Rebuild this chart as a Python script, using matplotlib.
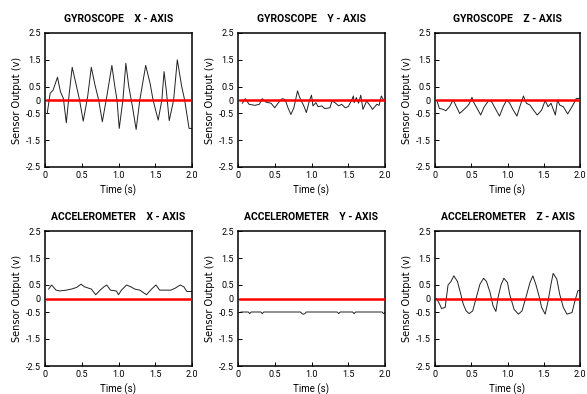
import matplotlib
matplotlib.use('Agg')
import matplotlib.pyplot as plt

# time / value samples
gyro_x_t = [0.03, 0.07, 0.11, 0.17, 0.21, 0.25, 0.29, 0.33, 0.37, 0.42, 0.47, 0.52, 0.58, 0.63,
            0.68, 0.73, 0.78, 0.84, 0.91, 0.95, 0.98, 1.01, 1.06, 1.10, 1.14, 1.19, 1.24, 1.29,
            1.37, 1.43, 1.47, 1.54, 1.59, 1.62, 1.65, 1.69, 1.75, 1.80, 1.86, 1.90, 1.96, 2.0]
gyro_x_v = [-0.5, 0.25, 0.37, 0.85, 0.31, 0.06, -0.85, 0.25, 1.22, 0.62, 0.0, -0.79, 0.12, 1.22,
            0.56, 0.0, -0.81, 0.12, 1.29, 0.5, 0.0, -1.06, 0.0, 1.37, 0.5, -0.25, -1.1, 0.0,
            1.29, 0.62, 0.0, -0.75, 0.0, 1.06, 0.37, -0.77, 0.0, 1.5, 0.5, 0.0, -1.06, -1.06]

gyro_y_t = [0.06, 0.10, 0.15, 0.23, 0.29, 0.33, 0.38, 0.45, 0.50, 0.55, 0.60, 0.64, 0.68, 0.72,
            0.76, 0.81, 0.84, 0.87, 0.90, 0.93, 0.97, 1.00, 1.02, 1.06, 1.09, 1.14, 1.18, 1.25,
            1.28, 1.32, 1.37, 1.41, 1.46, 1.50, 1.55, 1.57, 1.58, 1.61, 1.64, 1.67, 1.70, 1.75,
            1.80, 1.83, 1.89, 1.92, 1.95, 1.98]
gyro_y_v = [-0.12, 0.05, -0.16, -0.2, -0.16, 0.05, -0.08, -0.12, -0.29, -0.1, 0.05, 0.02, -0.29,
            -0.54, -0.29, 0.34, 0.09, -0.08, -0.25, -0.47, -0.04, 0.18, -0.22, -0.1, -0.25, -0.22,
            -0.32, -0.29, -0.04, -0.1, -0.22, -0.16, -0.29, -0.25, 0.02, 0.15, -0.1, 0.09, -0.12,
            0.18, -0.35, -0.04, -0.22, -0.35, -0.16, -0.2, 0.15, 0.0]

gyro_z_t = [0.03, 0.06, 0.11, 0.15, 0.20, 0.25, 0.29, 0.34, 0.39, 0.44, 0.47, 0.51, 0.54, 0.58,
            0.63, 0.68, 0.74, 0.78, 0.83, 0.89, 0.94, 0.99, 1.03, 1.08, 1.13, 1.17, 1.22, 1.26,
            1.31, 1.36, 1.41, 1.47, 1.52, 1.56, 1.60, 1.66, 1.69, 1.72, 1.77, 1.83, 1.89, 1.92,
            1.95, 2.0]
gyro_z_v = [-0.06, -0.31, -0.35, -0.4, -0.25, 0.0, -0.22, -0.5, -0.38, -0.25, -0.15, 0.1, -0.12,
            -0.31, -0.56, -0.25, -0.02, -0.06, -0.31, -0.6, -0.25, 0.0, -0.12, -0.38, -0.6, -0.25,
            0.15, -0.12, -0.19, -0.38, -0.56, -0.38, -0.02, -0.25, -0.12, -0.56, 0.0, -0.19,
            -0.25, -0.52, -0.25, -0.1, 0.06, 0.06]

acc_x_t = [0.05, 0.09, 0.15, 0.20, 0.29, 0.36, 0.43, 0.49, 0.54, 0.63, 0.69, 0.75, 0.80, 0.84,
           0.89, 0.97, 1.0, 1.04, 1.11, 1.17, 1.22, 1.29, 1.38, 1.45, 1.51, 1.56, 1.63, 1.71,
           1.77, 1.84, 1.89, 1.93, 2.0]
acc_x_v = [0.35, 0.5, 0.31, 0.28, 0.31, 0.35, 0.41, 0.53, 0.43, 0.35, 0.14, 0.31, 0.43, 0.5,
           0.31, 0.28, 0.14, 0.31, 0.5, 0.43, 0.35, 0.31, 0.14, 0.35, 0.5, 0.31, 0.31, 0.31,
           0.38, 0.5, 0.43, 0.26, 0.26]

acc_y_t = [0.04, 0.14, 0.16, 0.18, 0.31, 0.33, 0.35, 0.85, 0.87, 0.89, 0.91, 0.93, 1.35, 1.37,
           1.39, 1.56, 1.58, 1.60, 1.96, 1.98, 2.0]
acc_y_v = [-0.5, -0.5, -0.56, -0.5, -0.5, -0.56, -0.5, -0.5, -0.56, -0.58, -0.56, -0.5, -0.5,
           -0.56, -0.5, -0.5, -0.56, -0.5, -0.5, -0.56, -0.52]

acc_z_t = [0.02, 0.06, 0.09, 0.14, 0.18, 0.22, 0.26, 0.31, 0.35, 0.39, 0.43, 0.47, 0.52, 0.57,
           0.62, 0.67, 0.71, 0.76, 0.80, 0.84, 0.87, 0.91, 0.95, 1.0, 1.03, 1.09, 1.15, 1.20,
           1.26, 1.31, 1.35, 1.39, 1.44, 1.47, 1.52, 1.56, 1.60, 1.63, 1.68, 1.72, 1.77, 1.82,
           1.89, 1.93, 1.97, 2.0]
acc_z_v = [0.0, -0.19, -0.37, -0.33, 0.5, 0.63, 0.84, 0.63, 0.22, -0.21, -0.46, -0.56, -0.46,
           0.04, 0.53, 0.75, 0.63, 0.22, -0.27, -0.48, 0.04, 0.5, 0.75, 0.59, 0.16, -0.4, -0.58,
           -0.46, 0.1, 0.59, 0.84, 0.53, 0.04, -0.33, -0.58, -0.09, 0.53, 0.93, 0.72, 0.16,
           -0.33, -0.58, -0.52, -0.09, 0.28, 0.31]

zero_t = [0.03, 2.0]
zero_v = [0.0, 0.0]

titles = ['GYROSCOPE    X - AXIS', 'GYROSCOPE    Y - AXIS', 'GYROSCOPE    Z - AXIS',
          'ACCELEROMETER    X - AXIS', 'ACCELEROMETER    Y - AXIS', 'ACCELEROMETER    Z - AXIS']
series = [(gyro_x_t, gyro_x_v), (gyro_y_t, gyro_y_v), (gyro_z_t, gyro_z_v),
          (acc_x_t, acc_x_v), (acc_y_t, acc_y_v), (acc_z_t, acc_z_v)]

y_ticks = [2.5, 1.5, 0.5, 0, -0.5, -1.5, -2.5]
y_labels = ['2.5', '1.5', '0.5', '0', '-0.5', '-1.5', '-2.5']
x_ticks = [0, 0.5, 1.0, 1.5, 2.0]
x_labels = ['0', '0.5', '1.0', '1.5', '2.0']

narrow = ['Roboto', 'DejaVu Sans']

fig = plt.figure(figsize=(5.87, 3.94), dpi=100)

lefts = [45, 238, 435]
widths = [147, 147, 145]
rows = [(33, 134), (231, 135)]  # top, height in px

for i, (title, (t, v)) in enumerate(zip(titles, series)):
    r, c = divmod(i, 3)
    top, h = rows[r]
    ax = fig.add_axes([lefts[c] / 587, (394 - top - h) / 394, widths[c] / 587, h / 394])
    ax.plot(zero_t, zero_v, color='#ff0000', lw=1.8, zorder=3)
    ax.plot(t, v, color='#222222', lw=0.7, zorder=2)
    ax.set_xlim(0, 2.0)
    ax.set_ylim(-2.5, 2.5)
    ax.set_xticks(x_ticks)
    ax.set_xticklabels(x_labels, family=narrow, fontsize=6.5)
    ax.set_yticks(y_ticks)
    ax.set_yticklabels(y_labels, family=narrow, fontsize=6.5)
    ax.tick_params(direction='in', length=3, width=0.7, pad=3)
    for s in ax.spines.values():
        s.set_linewidth(1.1)
    ax.set_title(title, family=narrow, fontweight='bold', fontsize=7.5, pad=8)
    ax.set_xlabel('Time (s)', family=narrow, fontsize=7, labelpad=3)
    ax.set_ylabel('Sensor Output (v)', fontsize=7, labelpad=3)

fig.savefig('out.png', dpi=100)
